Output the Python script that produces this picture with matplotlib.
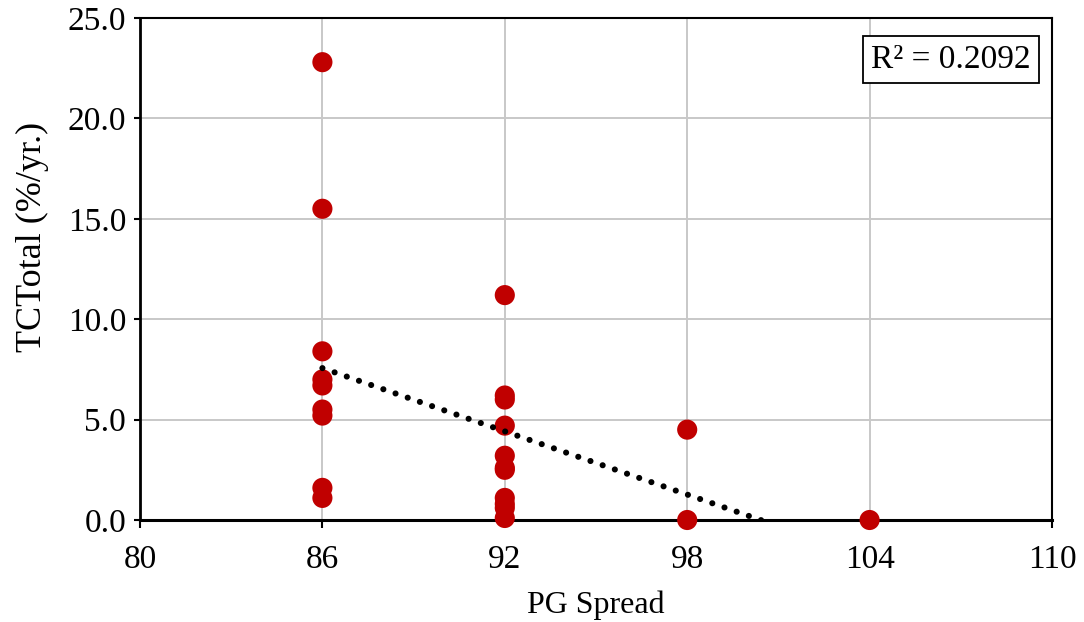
import numpy as np
import matplotlib
matplotlib.use("Agg")
import matplotlib.pyplot as plt

# PG spread vs. total TC rate
pg_spread = [86, 86, 86, 86, 86, 86, 86, 86, 86,
             92, 92, 92, 92, 92, 92, 92, 92, 92, 92, 92,
             98, 98,
             104]
tc_total = [22.8, 15.5, 8.4, 7.0, 6.7, 5.5, 5.2, 1.6, 1.1,
            11.2, 6.2, 6.0, 4.7, 3.2, 2.6, 2.5, 1.1, 0.8, 0.6, 0.1,
            4.5, 0.0,
            0.0]
r2_label = "R\u00b2 = 0.2092"
x_ticks = [80, 86, 92, 98, 104, 110]
y_ticks = [0, 5, 10, 15, 20, 25]

plt.rcParams["font.family"] = ["Liberation Serif", "DejaVu Serif"]

fig = plt.figure(figsize=(10.84, 6.22), dpi=100)
ax = fig.add_axes([140 / 1084, 102 / 622, 912 / 1084, 502 / 622])

x = np.array(pg_spread, dtype=float)
y = np.array(tc_total, dtype=float)

ax.scatter(x, y, s=210, color="#C00000", edgecolors="none", zorder=3,
           clip_on=False)

# Linear trendline over the data range
slope, intercept = np.polyfit(x, y, 1)
xt = np.linspace(x.min(), x.max(), 200)
ax.plot(xt, slope * xt + intercept, color="black", lw=4.4,
        linestyle=(0, (0.01, 2.1)), dash_capstyle="round", zorder=4)

ax.set_xlim(80, 110)
ax.set_ylim(0, 25)
ax.set_xticks(x_ticks)
ax.set_yticks(y_ticks)
ax.set_xticklabels([str(v) for v in x_ticks])
ax.set_yticklabels([f"{v:.1f}" for v in y_ticks])
ax.grid(True, color="#c8c8c8", lw=1.4, zorder=0)
ax.set_axisbelow(True)

for s in ax.spines.values():
    s.set_color("black")
    s.set_linewidth(1.5)
ax.spines["bottom"].set_linewidth(2.2)
ax.spines["left"].set_linewidth(2.0)

ax.tick_params(axis="x", direction="out", length=6, width=1.5,
               labelsize=24, pad=11.5, colors="black")
ax.tick_params(axis="y", direction="out", length=4, width=1.5,
               labelsize=24, pad=6, colors="black")

ax.set_xlabel("PG Spread", fontsize=23, labelpad=11)
ax.set_ylabel("TCTotal (%/yr.)", fontsize=26)
ax.yaxis.set_label_coords(-0.1, 0.564)

ax.text(0.977, 0.917, r2_label, transform=ax.transAxes, fontsize=24,
        ha="right", va="center", zorder=5,
        bbox=dict(boxstyle="square,pad=0.25", facecolor="white",
                  edgecolor="black", linewidth=1.3))

fig.savefig("out.png", dpi=100)
